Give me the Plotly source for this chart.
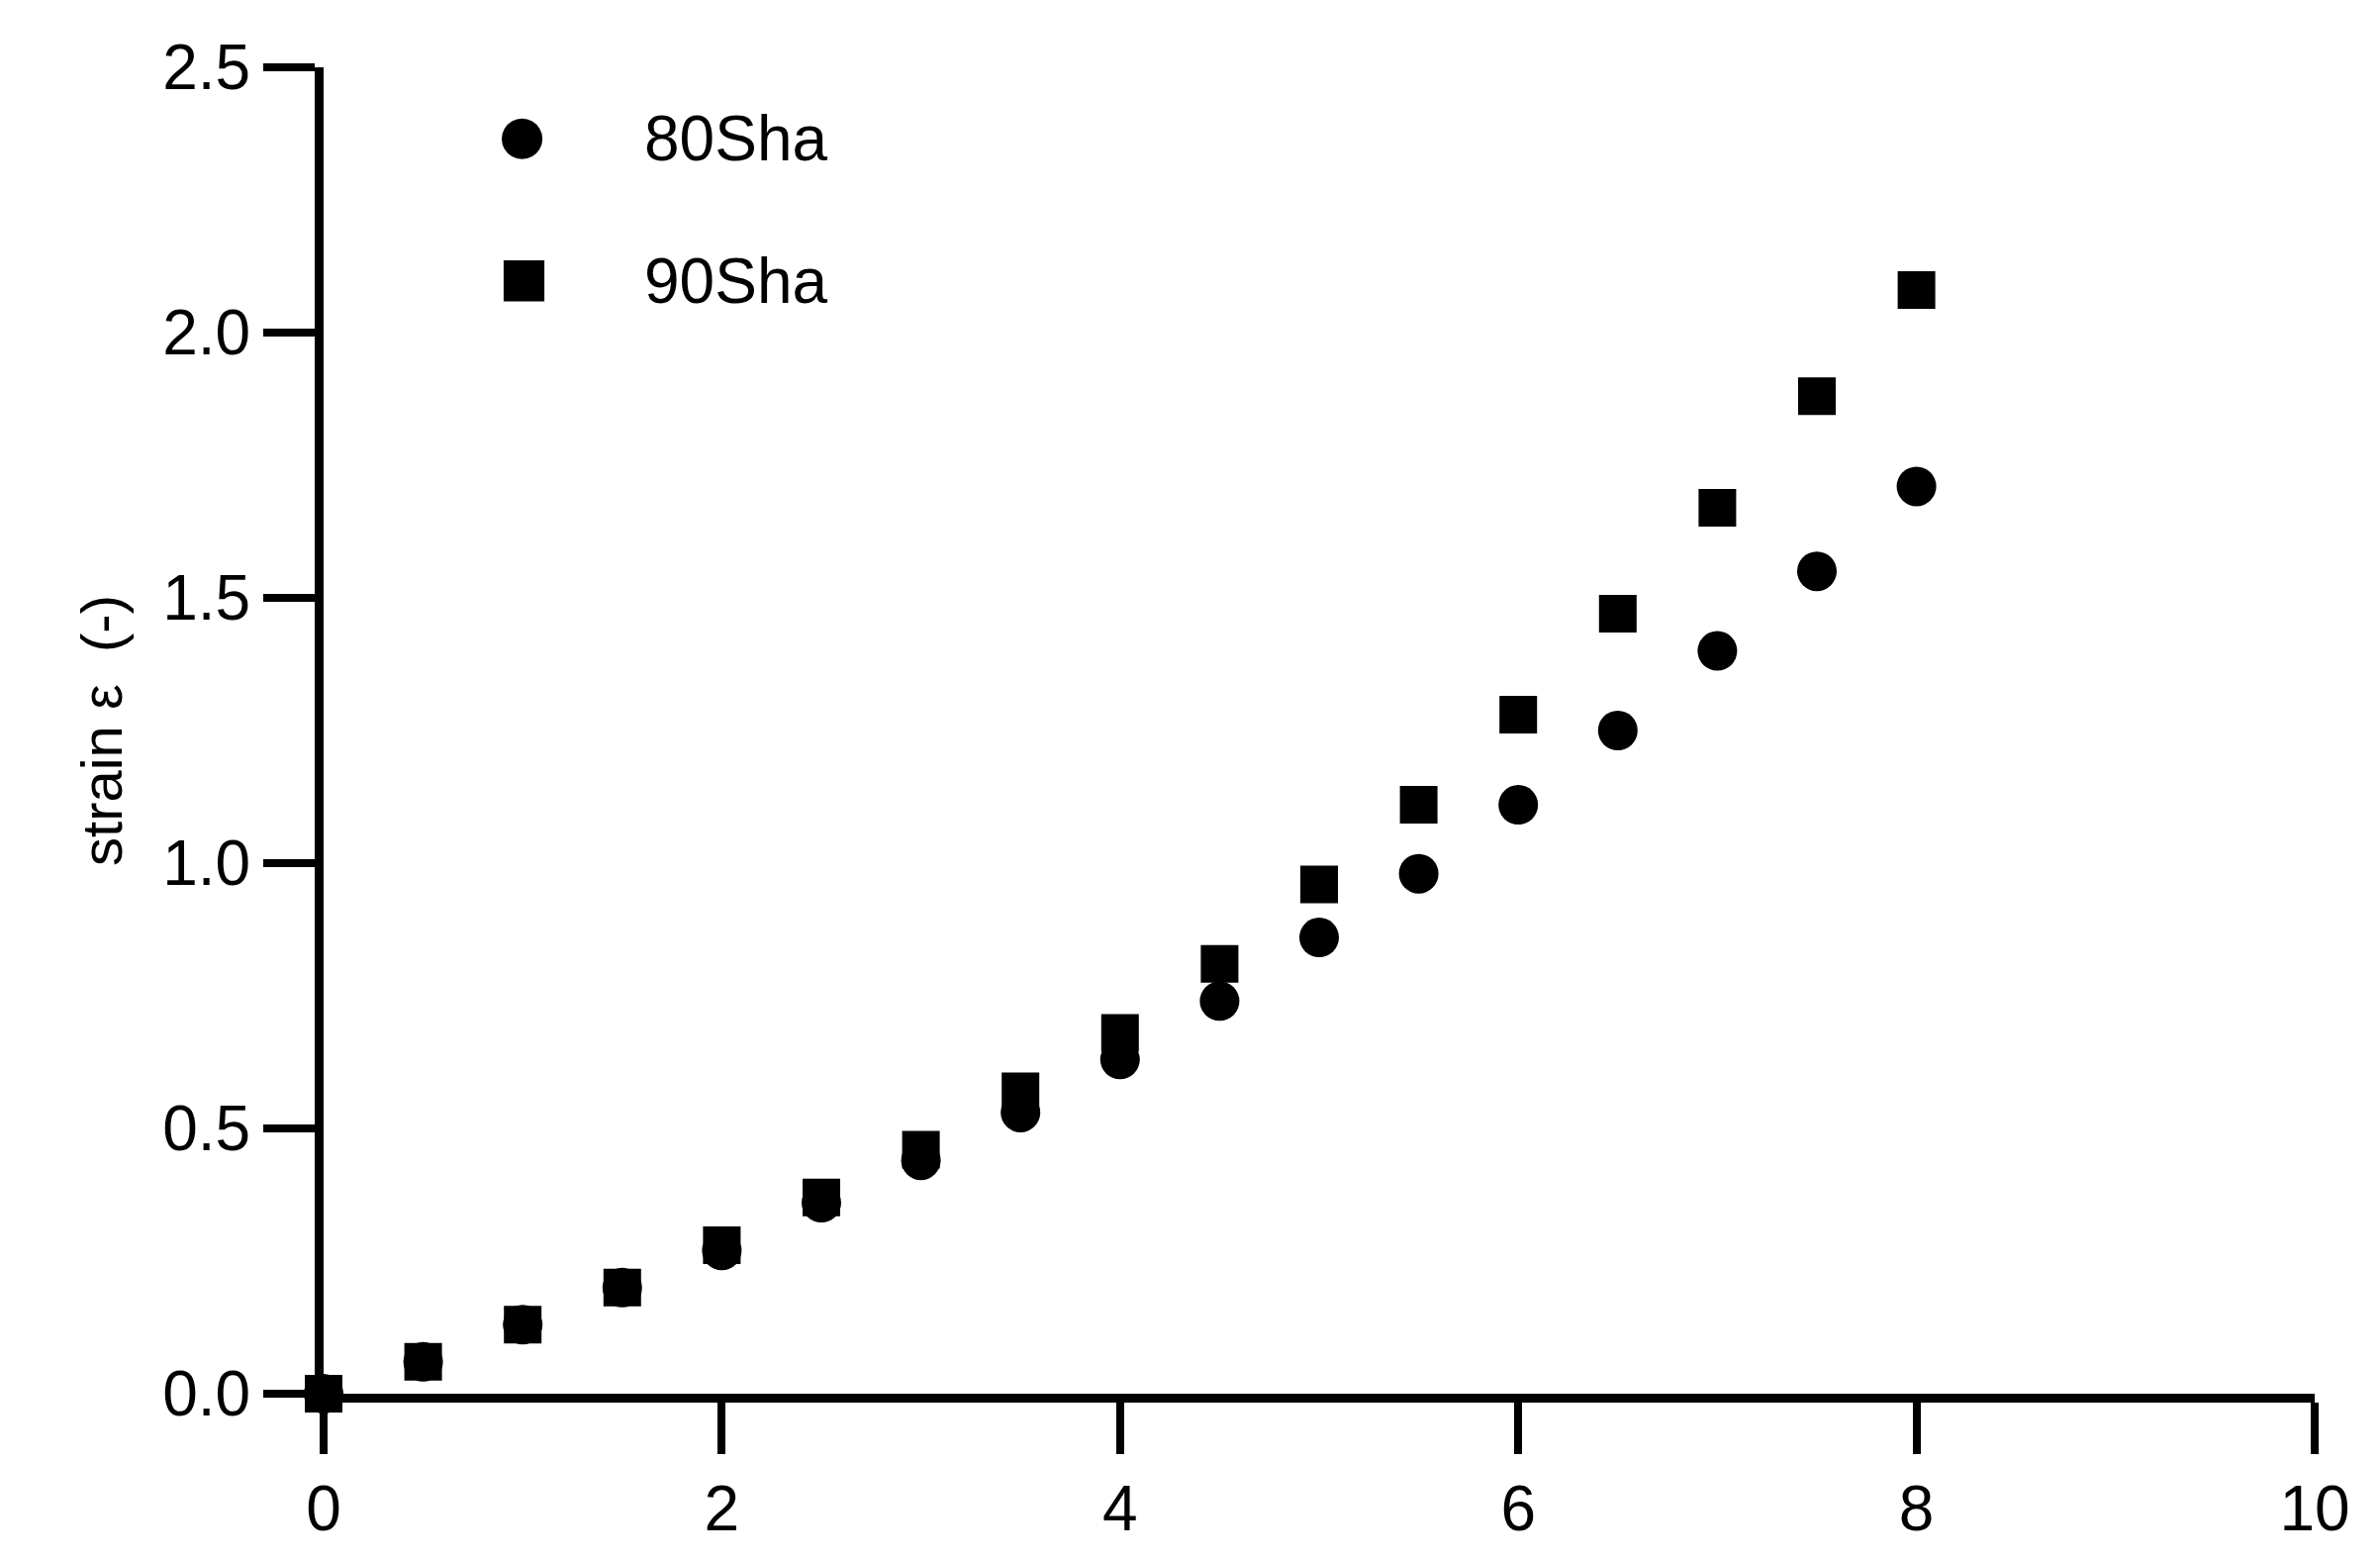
import plotly.graph_objects as go

x = [0, 0.5, 1, 1.5, 2, 2.5, 3, 3.5, 4, 4.5, 5, 5.5, 6, 6.5, 7, 7.5, 8]
s80 = [0, 0.06, 0.13, 0.20, 0.27, 0.36, 0.44, 0.53, 0.63, 0.74, 0.86, 0.98, 1.11, 1.25, 1.40, 1.55, 1.71]
s90 = [0, 0.06, 0.13, 0.20, 0.28, 0.37, 0.46, 0.57, 0.68, 0.81, 0.96, 1.11, 1.28, 1.47, 1.67, 1.88, 2.08]
names = ["80Sha", "90Sha"]

fig = go.Figure()
fig.add_trace(go.Scatter(x=x, y=s80, mode="markers", name=names[0], showlegend=False,
                         marker=dict(symbol="circle", size=40, color="black"), cliponaxis=False))
fig.add_trace(go.Scatter(x=x, y=s90, mode="markers", name=names[1], showlegend=False,
                         marker=dict(symbol="square", size=38, color="black"), cliponaxis=False))

font = dict(family="Liberation Sans", size=64, color="black")
axis_common = dict(showline=True, linewidth=9, linecolor="black", ticks="outside",
                   ticklen=52, tickwidth=8, tickcolor="black", showgrid=False, zeroline=False,
                   tickfont=font)
fig.update_xaxes(range=[0, 10], dtick=2, **axis_common)
fig.update_yaxes(range=[0, 2.5], dtick=0.5, tickformat=".1f",
                 title=dict(text="strain ε  (-)", font=dict(family="Liberation Sans", size=58, color="black"), standoff=25),
                 **axis_common)

for i, (sym, nm) in enumerate(zip(["●", "■"], names)):
    yy = 0.975 - i * 0.108
    fig.add_annotation(xref="paper", yref="paper", x=0.087, y=yy, text=sym, showarrow=False,
                       font=dict(family="DejaVu Sans", size=54, color="black"))
    fig.add_annotation(xref="paper", yref="paper", x=0.16, y=yy, text=nm, showarrow=False,
                       xanchor="left", font=font)

fig.update_layout(width=2405, height=1576, plot_bgcolor="white", paper_bgcolor="white",
                  margin=dict(l=319, r=74, t=60, b=176))
fig.write_html("out.html")
